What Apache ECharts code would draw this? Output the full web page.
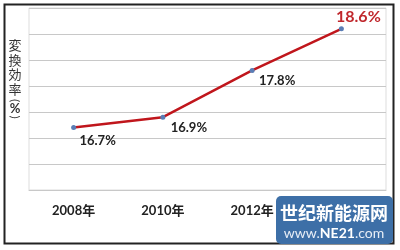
<!DOCTYPE html>
<html>
<head>
<meta charset="utf-8">
<script src="https://cdn.jsdelivr.net/npm/echarts@6/dist/echarts.min.js"></script>
<style>
html,body{margin:0;padding:0;background:#fff;}
#c{width:400px;height:250px;}
</style>
</head>
<body>
<div id="c"></div>
<script>
var categories = ['2008年', '2010年', '2012年', '2014年'];
var efficiency = [16.7, 16.9, 17.8, 18.6];
var valueLabels = ['16.7%', '16.9%', '17.8%', '18.6%'];
var yTitleChars = ['変', '換', '効', '率', '(', '%', ')'];

var chart = echarts.init(document.getElementById('c'), null, {renderer: 'canvas'});
var labelOffsets = [[24, 13], [26, 11], [25, 10], [17, -12]];
var dataItems = efficiency.map(function (v, i) {
  var last = i === efficiency.length - 1;
  return {
    value: v,
    label: {
      show: true,
      position: 'inside',
      offset: labelOffsets[i],
      formatter: valueLabels[i],
      fontSize: last ? 16 : 13,
      fontWeight: 'bold',
      color: last ? '#C0282D' : '#222',
      fontFamily: 'Lato, "Noto Sans CJK SC", sans-serif'
    }
  };
});

// vertical title: one text element per character
var titleYs = [45.5, 60, 74.5, 89, 100.5, 108.5, 117];
var titleGraphics = yTitleChars.map(function (c, i) {
  var isParen = (c === '(' || c === ')');
  return {
    type: 'text',
    x: 15,
    y: titleYs[i],
    rotation: isParen ? -Math.PI / 2 : 0,
    style: {
      text: c,
      fontSize: isParen ? 12 : 13,
      fill: '#333',
      align: 'center',
      verticalAlign: 'middle',
      fontWeight: c === '%' ? 'bold' : 'normal',
      fontFamily: (c === '%' || isParen) ? 'Lato, sans-serif' : '"Noto Sans CJK JP", sans-serif'
    }
  };
});

chart.setOption({
  animation: false,
  backgroundColor: '#fff',
  grid: {left: 29, right: 14, top: 8, bottom: 60, show: true, borderColor: '#ddd', borderWidth: 1},
  xAxis: {
    type: 'category',
    data: categories,
    boundaryGap: true,
    axisLine: {show: true, lineStyle: {color: '#c8c8c8'}},
    axisTick: {show: false},
    axisLabel: {
      margin: 14,
      fontSize: 13,
      fontWeight: 'bold',
      color: '#222',
      fontFamily: 'Lato, "Noto Sans CJK SC", sans-serif'
    },
    splitLine: {show: false}
  },
  yAxis: {
    type: 'value',
    min: 15.5,
    max: 19,
    interval: 0.5,
    axisLine: {show: false},
    axisTick: {show: false},
    axisLabel: {show: false},
    splitLine: {show: true, lineStyle: {color: '#c8c8c8', width: 1}}
  },
  series: [{
    type: 'line',
    data: dataItems,
    symbol: 'circle',
    symbolSize: 5,
    itemStyle: {color: '#5A7DB5'},
    lineStyle: {color: '#C0161C', width: 2.5},
    z: 3
  }],
  graphic: titleGraphics.concat([
    {
      type: 'rect',
      shape: {x: 4.5, y: 4.5, width: 389, height: 239},
      style: {fill: 'none', stroke: '#222', lineWidth: 2},
      z: 10
    },
    {
      type: 'rect',
      shape: {x: 276, y: 196, width: 117, height: 48, r: 5},
      style: {fill: '#3D6FA7'},
      z: 20
    },
    {
      type: 'text',
      x: 334,
      y: 213,
      style: {
        text: '世纪新能源网',
        fontSize: 18,
        fontWeight: 'bold',
        fill: '#fff',
        align: 'center',
        verticalAlign: 'middle',
        fontFamily: '"Noto Sans CJK SC", sans-serif'
      },
      z: 21
    },
    {
      type: 'text',
      x: 334,
      y: 233,
      style: {
        text: '{a|www.}{b|NE21}{a|.com}',
        align: 'center',
        verticalAlign: 'middle',
        rich: {
          a: {fontSize: 14, fill: '#e8eef6', fontFamily: 'Lato, sans-serif'},
          b: {fontSize: 14, fontWeight: 'bold', fill: '#fff', fontFamily: 'Lato, sans-serif'}
        }
      },
      z: 21
    }
  ])
});
</script>
</body>
</html>
